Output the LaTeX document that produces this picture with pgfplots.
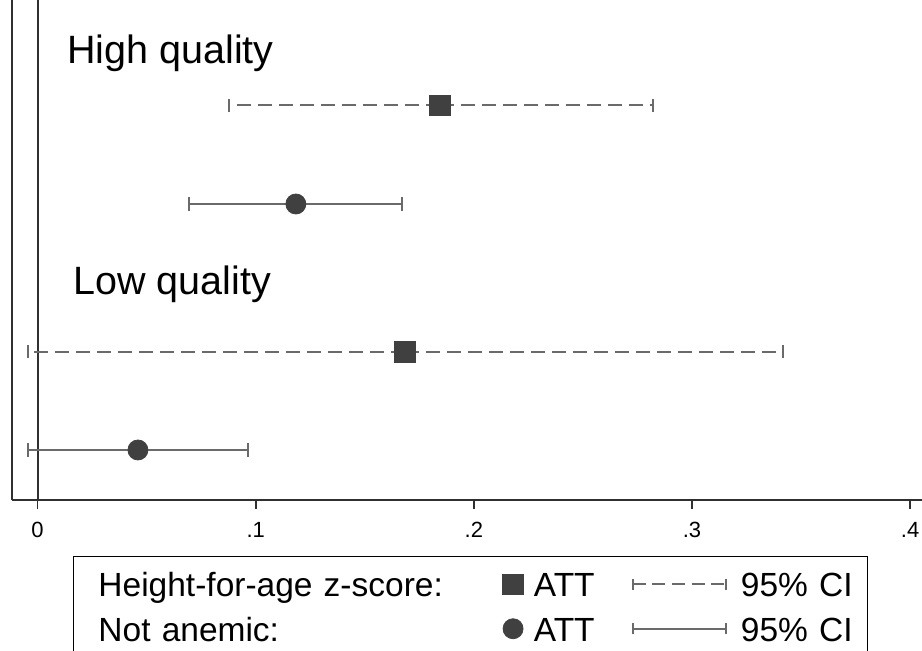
\documentclass[border=0pt]{standalone}
\usepackage{fontspec}
\setmainfont{Liberation Sans}
\usepackage{pgfplots}
\pgfplotsset{compat=1.18}
\usepackage{pgfplotstable}
\usetikzlibrary{arrows.meta}
\definecolor{mk}{HTML}{404040}
\definecolor{ci}{HTML}{6A6A6A}
\definecolor{ax}{HTML}{303030}

% y = vertical position (row), x = ATT, em/ep = distance to CI bounds
\pgfplotstableread{
x y em ep
0.1846 394.5 0.0969 0.0974
0.1684 148.3 0.1727 0.1732
}\hfa
\pgfplotstableread{
x y em ep
0.1184 296.0 0.0489 0.0488
0.0460 50.0 0.0503 0.0504
}\anem

\newcommand{\tl}[1]{\hbox{\fontsize{11pt}{13pt}\selectfont #1}}
\begin{document}
\begin{tikzpicture}
\useasboundingbox (0pt,0pt) rectangle (461pt,325.5pt);
\clip (0pt,0pt) rectangle (461pt,325.5pt);
\begin{axis}[
  at={(6.15pt,75.5pt)}, anchor=south west,
  scale only axis, width=459.8pt, height=260pt,
  xmin=-0.0116, xmax=0.41, ymin=0, ymax=520,
  axis x line=bottom, axis y line=left,
  axis line style={-, ax, line width=0.8pt},
  ytick=\empty,
  xtick={0,0.1,0.2,0.3,0.4},
  xticklabels={\tl{0},\tl{.1},\tl{.2},\tl{.3},\tl{.4}},
  tick align=outside, major tick length=4.5pt,
  tick style={ax, line width=0.8pt},
  xticklabel style={anchor=north, inner sep=0pt, yshift=-6.4pt},
  clip=false,
  legend columns=3,
  legend cell align=left,
  legend style={at={(axis description cs:0.0660,-0.1071)}, anchor=north west,
    draw=black, line width=0.5pt, inner xsep=0pt, inner ysep=7.4pt,
    /tikz/column sep=0pt, /tikz/row sep=0pt,
    font=\fontsize{16.75pt}{20pt}\selectfont,
    nodes={inner sep=0pt, text height=13pt, text depth=9.25pt, align=left}},
]
% zero line
\addplot[forget plot, ax, line width=1pt] coordinates {(0,0) (0,520)};
% Height-for-age z-score
\addplot[forget plot, only marks, mark=square*, mark size=5.2pt,
  mark options={fill=mk, draw=mk, solid},
  error bars/.cd, x dir=both, x explicit,
  error bar style={ci, line width=1pt, dash pattern=on 7pt off 3.5pt},
  error mark options={ci, line width=1pt, solid, mark size=3.4pt, rotate=90}]
  table[x=x, y=y, x error plus=ep, x error minus=em] {\hfa};
% Not anemic
\addplot[forget plot, only marks, mark=*, mark size=5pt,
  mark options={fill=mk, draw=mk, solid},
  error bars/.cd, x dir=both, x explicit,
  error bar style={ci, line width=1pt, solid},
  error mark options={ci, line width=1pt, solid, mark size=3.4pt, rotate=90}]
  table[x=x, y=y, x error plus=ep, x error minus=em] {\anem};

\node[anchor=base west, inner sep=0pt, font=\fontsize{19.75pt}{23pt}\selectfont]
  at (axis cs:0.0134,436.7) {High quality};
\node[anchor=base west, inner sep=0pt, font=\fontsize{19.75pt}{23pt}\selectfont]
  at (axis cs:0.0162,205.7) {Low quality};

% legend
\addlegendimage{legend image code/.code={\path[draw=none,fill=none] (0pt,0pt) rectangle (12.5pt,0pt);}}
\addlegendentry[text width=202pt]{Height-for-age z-score:}
\addlegendimage{legend image code/.code={\path[draw=none,fill=none] (0pt,0pt) rectangle (15.5pt,0pt);
  \path[draw=mk, fill=mk, line width=0.4pt, solid] (5.1pt,4.5pt) ++(-5.1pt,-5.1pt) rectangle ++(10.2pt,10.2pt);}}
\addlegendentry[text width=49pt]{ATT}
\addlegendimage{legend image code/.code={\path[draw=none,fill=none] (0pt,0pt) rectangle (54pt,0pt);
  \draw[ci, line width=1pt, dash pattern=on 6.5pt off 3.3pt] (0pt,4.5pt) -- (46.5pt,4.5pt);
  \draw[ci, line width=1pt, solid] (0pt,1.8pt) -- (0pt,7.2pt) (46.5pt,1.8pt) -- (46.5pt,7.2pt);}}
\addlegendentry[text width=63.5pt]{95\% CI}
\addlegendimage{legend image code/.code={\path[draw=none,fill=none] (0pt,0pt) rectangle (12.5pt,0pt);}}
\addlegendentry[text width=202pt]{Not anemic:}
\addlegendimage{legend image code/.code={\path[draw=none,fill=none] (0pt,0pt) rectangle (15.5pt,0pt);
  \path[draw=mk, fill=mk, line width=0.4pt, solid] (5.1pt,4.5pt) circle[radius=5pt];}}
\addlegendentry[text width=49pt]{ATT}
\addlegendimage{legend image code/.code={\path[draw=none,fill=none] (0pt,0pt) rectangle (54pt,0pt);
  \draw[ci, line width=1pt, solid] (0pt,4.5pt) -- (46.5pt,4.5pt);
  \draw[ci, line width=1pt, solid] (0pt,1.8pt) -- (0pt,7.2pt) (46.5pt,1.8pt) -- (46.5pt,7.2pt);}}
\addlegendentry[text width=63.5pt]{95\% CI}
\end{axis}
\end{tikzpicture}
\end{document}
